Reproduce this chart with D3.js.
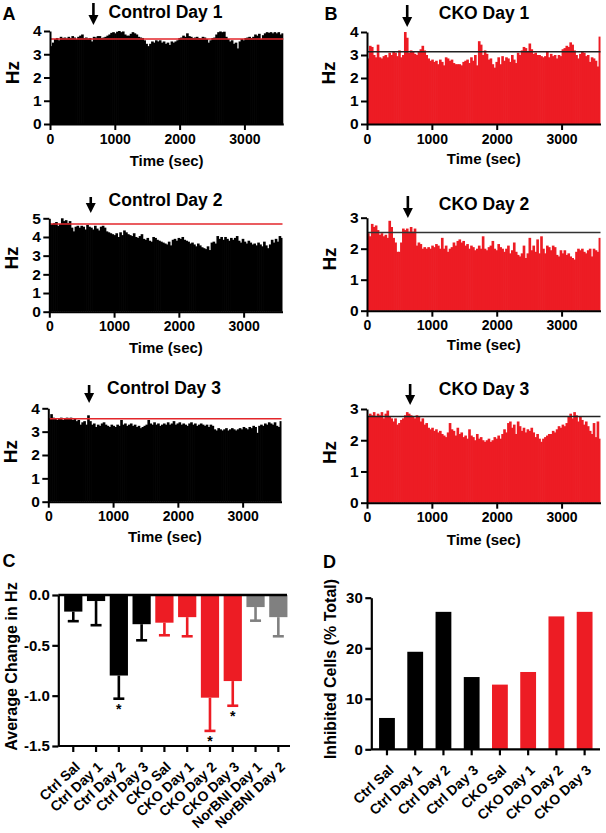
<!DOCTYPE html>
<html><head><meta charset="utf-8">
<script src="https://cdn.jsdelivr.net/npm/d3@7"></script>
<style>
body{margin:0;background:#fff}
svg text{font-family:"Liberation Sans",Arial,Helvetica,sans-serif;font-weight:bold;fill:#000}
</style>
</head><body>
<svg id="fig" width="606" height="833"></svg>
<script>
// ---------------- DATA ----------------
const binSeconds = 30;            // histogram bin width (sec)
const sessionSeconds = 3600;
const timeTicks = [0, 1000, 2000, 3000];

const ctrlDay1 = [
 3.35,3.5,3.65,3.7,3.6,3.75,3.7,3.72,3.68,3.75,
 3.7,3.78,3.72,3.65,3.75,3.8,3.85,3.7,3.72,3.68,
 3.7,3.55,3.75,3.72,3.78,3.78,3.7,3.72,3.75,3.8,
 3.85,3.92,3.95,3.9,3.97,4.0,3.95,3.98,3.85,3.8,
 3.8,3.88,3.95,3.9,3.85,3.75,3.72,3.7,3.6,3.45,
 3.35,3.45,3.55,3.5,3.6,3.55,3.6,3.5,3.55,3.45,
 3.5,3.4,3.55,3.5,3.55,3.6,3.7,3.72,3.8,3.75,
 3.9,3.78,3.75,3.7,3.72,3.75,3.7,3.68,3.75,3.72,
 3.65,3.5,3.6,3.7,3.72,3.85,3.95,3.98,3.95,3.97,
 3.75,3.65,3.55,3.6,3.45,3.5,3.25,3.55,3.65,3.6,
 3.7,3.72,3.75,3.7,3.75,3.85,3.8,3.88,3.65,3.82,
 3.9,3.95,3.92,3.95,3.9,3.95,3.9,3.95,3.85,3.9];
const ctrlDay2 = [
 4.65,4.7,4.75,4.8,4.6,4.7,5.0,4.85,4.9,4.75,
 4.85,4.5,4.3,4.55,4.6,4.5,4.6,4.55,4.4,4.65,
 4.55,4.5,4.4,4.6,4.45,4.35,4.55,4.6,4.5,4.3,
 4.25,4.2,4.15,4.1,4.2,4.0,4.25,4.1,4.35,4.25,
 4.15,4.1,4.05,4.2,4.0,3.95,4.05,4.15,3.9,3.85,
 3.95,3.8,3.75,4.0,3.95,3.85,3.8,3.75,3.7,3.65,
 3.6,3.75,3.55,3.85,3.9,3.8,3.95,3.9,4.0,3.85,
 3.8,3.75,3.65,3.7,3.6,3.5,3.65,3.55,3.45,3.4,
 3.35,3.5,3.3,3.7,3.75,3.65,4.05,3.9,4.0,3.85,
 4.0,3.9,3.8,3.95,3.85,3.95,4.05,3.8,3.7,3.9,
 3.75,3.65,3.8,3.7,3.6,3.65,3.55,3.7,3.6,3.5,
 3.75,3.55,3.4,3.6,3.85,3.7,3.9,3.75,4.05,3.95];
const ctrlDay3 = [
 3.55,3.75,3.6,3.55,3.5,3.55,3.6,3.5,3.55,3.6,
 3.55,3.6,3.5,3.55,3.45,3.5,3.3,3.4,3.45,3.3,
 3.7,3.45,3.3,3.35,3.2,3.3,3.25,3.35,3.4,3.3,
 3.25,3.2,3.3,3.25,3.2,3.3,3.25,3.5,3.3,3.35,
 3.25,3.3,3.35,3.25,3.3,3.2,3.25,3.15,3.2,3.25,
 3.3,3.5,3.35,3.3,3.4,3.3,3.35,3.25,3.3,3.35,
 3.3,3.4,3.3,3.35,3.45,3.3,3.35,3.4,3.3,3.35,
 3.3,3.25,3.35,3.4,3.3,3.35,3.25,3.3,3.35,3.3,
 3.25,3.3,3.2,3.3,3.25,3.1,3.05,3.15,3.1,3.05,
 3.1,3.15,3.05,3.1,3.15,3.1,3.05,3.1,3.15,3.1,
 3.2,3.15,3.1,3.2,3.15,3.25,3.2,2.95,3.25,3.3,
 3.25,3.35,3.3,3.4,3.35,3.3,3.4,3.25,3.2,3.45];
const ckoDay1 = [
 2.85,3.4,3.35,3.0,2.9,3.45,2.9,2.85,2.95,3.0,
 2.9,3.1,3.0,3.15,3.1,2.95,3.2,2.9,3.0,4.0,
 3.75,3.1,3.2,3.15,3.05,3.0,3.15,3.25,3.4,3.2,
 3.0,2.85,2.75,2.8,2.7,2.75,2.6,2.8,2.7,2.55,
 2.9,2.85,2.75,2.8,2.65,2.6,2.6,2.6,2.55,2.7,
 2.75,2.8,2.65,2.9,2.75,3.0,2.55,3.6,3.45,3.0,
 3.2,3.05,2.8,2.85,2.6,2.45,2.7,2.9,2.6,2.95,
 2.75,2.9,2.85,2.7,3.0,2.8,2.65,3.1,3.0,3.2,
 3.35,3.3,3.15,3.5,3.25,3.05,3.1,3.0,3.0,2.95,
 2.9,2.95,3.15,2.9,3.05,2.95,3.0,2.85,3.0,2.95,
 3.25,3.3,3.4,3.35,3.55,3.45,3.2,3.0,2.85,3.05,
 3.15,3.1,2.95,3.0,2.7,2.9,2.85,2.75,2.5,3.8];
const ckoDay2 = [
 2.5,2.4,2.8,2.7,2.75,2.6,2.45,2.5,2.4,2.45,
 2.35,2.9,2.7,2.35,2.2,1.9,1.9,2.2,2.65,2.6,
 2.65,2.55,2.7,2.55,2.65,2.1,2.2,2.15,2.0,2.05,
 2.0,2.05,2.0,2.1,2.05,2.15,2.1,2.0,2.35,2.0,
 2.1,1.9,2.0,2.05,2.2,2.1,2.25,2.3,2.2,2.25,
 2.1,2.15,2.0,2.1,2.05,1.95,2.0,2.1,2.0,2.4,
 2.0,1.95,2.05,2.1,2.25,2.0,1.95,2.15,2.05,2.0,
 1.9,2.0,2.1,1.85,1.95,2.2,1.9,1.8,1.75,1.85,
 2.1,1.7,1.85,2.35,1.95,2.1,1.9,2.3,1.85,2.4,
 2.0,1.85,2.1,2.05,1.95,2.1,2.05,1.8,1.75,1.95,
 1.85,1.95,1.8,1.85,1.75,1.7,1.65,1.9,2.0,1.95,
 2.0,1.9,1.85,1.95,2.0,1.75,2.0,1.95,1.9,2.35];
const ckoDay3 = [
 2.75,2.85,2.8,2.9,2.75,2.85,2.8,2.9,2.7,2.85,
 2.95,2.75,2.7,2.6,2.7,2.5,2.55,2.65,2.7,2.8,
 2.9,2.85,2.8,2.75,2.7,2.8,2.75,2.6,2.7,2.5,
 2.55,2.4,2.35,2.4,2.3,2.35,2.25,2.3,2.2,2.15,
 2.1,2.25,2.55,2.35,2.3,2.15,2.4,2.2,2.25,2.1,
 2.15,2.05,2.35,2.15,2.1,2.0,2.2,2.05,2.1,2.0,
 1.95,2.0,2.05,1.95,2.0,2.1,2.05,2.15,2.05,2.2,
 2.35,2.25,2.55,2.6,2.4,2.5,2.2,2.6,2.45,2.3,
 2.4,2.25,2.35,2.3,2.4,2.25,2.1,2.2,2.05,1.95,
 2.05,2.1,2.15,2.2,2.2,2.3,2.25,2.35,2.45,2.4,
 2.5,2.45,2.55,2.75,2.85,2.7,2.9,2.8,2.6,2.75,
 2.65,2.5,2.6,2.45,2.3,2.2,2.55,2.1,2.6,2.05];

const histTitles = ["Control Day 1","Control Day 2","Control Day 3","CKO Day 1","CKO Day 2","CKO Day 3"];
const histBaselines = [3.66, 4.7, 3.55, 3.14, 2.52, 2.76];   // pre-injection mean (Hz)
const injectionTimes = [670, 640, 630, 620, 630, 665];       // arrow (sec)
const histYMax = [4, 5, 4, 4, 3, 3];

// Panel C
const catsC  = ["Ctrl Sal","Ctrl Day 1","Ctrl Day 2","Ctrl Day 3","CKO Sal","CKO Day 1","CKO Day 2","CKO Day 3","NorBNI Day 1","NorBNI Day 2"];
const meansC = [-0.165,-0.06,-0.80,-0.29,-0.275,-0.22,-1.02,-0.855,-0.12,-0.22];
const semC   = [0.095,0.24,0.23,0.16,0.125,0.19,0.33,0.245,0.135,0.19];
const groupC = ["ctrl","ctrl","ctrl","ctrl","cko","cko","cko","cko","nor","nor"];
const starsC = ["","","*","","","","*","*","",""];
const ticksC = [0,-0.5,-1.0,-1.5];

// Panel D
const catsD   = ["Ctrl Sal","Ctrl Day 1","Ctrl Day 2","Ctrl Day 3","CKO Sal","CKO Day 1","CKO Day 2","CKO Day 3"];
const valuesD = [6.2,19.3,27.2,14.3,12.8,15.3,26.3,27.2];
const groupD  = ["ctrl","ctrl","ctrl","ctrl","cko","cko","cko","cko"];
const ticksD  = [0,10,20,30];

// ---------------- STYLE / LAYOUT ----------------
const RED = "#ed1c24", GRAY = "#808080";
const groupColor = {ctrl:"#000", cko:RED, nor:GRAY};
const datasets = [ctrlDay1, ctrlDay2, ctrlDay3, ckoDay1, ckoDay2, ckoDay3];
const layout = [
 {x0:50,   x1:283.3, yb:124,   yt:31,    fill:"#000", line:"#e3262b", tx:165.5, ty:18.3, ay0:3,  ay1:25,  hzx:19,    hzy:72.7, timeY:166},
 {x0:49.3, x1:282.5, yb:311.7, yt:218.3, fill:"#000", line:"#e3262b", tx:165.5, ty:206,  ay0:197,ay1:213, hzx:18.3,  hzy:258,  timeY:352.5},
 {x0:48.3, x1:281.5, yb:501.7, yt:408.3, fill:"#000", line:"#e3262b", tx:164,   ty:393.5,ay0:385,ay1:403, hzx:17.3,  hzy:451.7,timeY:541.7},
 {x0:367,  x1:600.5, yb:124,   yt:32,    fill:RED,    line:"#222",    tx:484,   ty:19,   ay0:5,  ay1:27,  hzx:334.7, hzy:73,   timeY:164},
 {x0:367,  x1:600.5, yb:310.7, yt:217.7, fill:RED,    line:"#333",    tx:484,   ty:210,  ay0:196,ay1:218, hzx:336.3, hzy:259,  timeY:350},
 {x0:367,  x1:600.5, yb:502.7, yt:409,   fill:RED,    line:"#222",    tx:484,   ty:395,  ay0:384,ay1:405, hzx:336.3, hzy:452.5,timeY:545}
];
const catLabelTransform = "translate(7.5,22) rotate(-43)";

const svg = d3.select("#fig");

function styleAxis(g, fs, sw){
  g.selectAll("path.domain").attr("stroke","#000").attr("stroke-width",sw);
  g.selectAll(".tick line").attr("stroke","#000").attr("stroke-width",sw);
  g.selectAll(".tick text").style("font-size",fs+"px").attr("fill","#000");
}

function drawHist(i){
  const L = layout[i], data = datasets[i];
  const g = svg.append("g");
  const x = d3.scaleLinear().domain([0, sessionSeconds]).range([L.x0, L.x1]);
  const y = d3.scaleLinear().domain([0, histYMax[i]]).range([L.yb, L.yt]);
  const bw = x(binSeconds) - x(0);
  g.append("g").selectAll("rect").data(data).join("rect")
    .attr("x",(d,k)=>x(k*binSeconds))
    .attr("width",(d,k)=> k===data.length-1 ? bw : bw+0.7)
    .attr("y",d=>y(d)).attr("height",d=>L.yb-y(d))
    .attr("fill",L.fill);
  // baseline
  g.append("line").attr("x1",x(0)).attr("x2",x(sessionSeconds))
    .attr("y1",y(histBaselines[i])).attr("y2",y(histBaselines[i]))
    .attr("stroke",L.line).attr("stroke-width",1.5);
  // axes
  const ya = g.append("g").attr("transform",`translate(${L.x0},0)`)
    .call(d3.axisLeft(y).tickValues(d3.range(0,histYMax[i]+1)).tickSize(6).tickSizeOuter(0).tickPadding(2.5).tickFormat(d3.format("d")));
  styleAxis(ya,15.5,2);
  const xa = g.append("g").attr("transform",`translate(0,${L.yb})`)
    .call(d3.axisBottom(x).tickValues(timeTicks).tickSize(6).tickSizeOuter(0).tickPadding(3.5).tickFormat(d3.format("d")));
  styleAxis(xa,14,2);
  xa.selectAll(".tick text").attr("dy","0.72em");
  // labels
  g.append("text").attr("x",L.tx).attr("y",L.ty).attr("text-anchor","middle").style("font-size","17.5px").text(histTitles[i]);
  g.append("text").attr("transform",`translate(${L.hzx},${L.hzy}) rotate(-90)`).attr("text-anchor","middle").style("font-size","19px").text("Hz");
  g.append("text").attr("x",(L.x0+L.x1)/2).attr("y",L.timeY).attr("text-anchor","middle").style("font-size","15px").text("Time (sec)");
  // injection arrow
  const ax = x(injectionTimes[i]), head = 10, hw = 5;
  g.append("line").attr("x1",ax).attr("x2",ax).attr("y1",L.ay0).attr("y2",L.ay1-head+1)
    .attr("stroke","#000").attr("stroke-width",2.6);
  g.append("path").attr("d",`M${ax-hw},${L.ay1-head} L${ax+hw},${L.ay1-head} L${ax},${L.ay1} Z`).attr("fill","#000");
}
for (let i=0;i<6;i++) drawHist(i);

// panel letters
[["A",2.5,20],["B",324.5,19.5],["C",2.5,567],["D",323,568]].forEach(([t,x,y])=>{
  svg.append("text").attr("x",x).attr("y",y).style("font-size","18px").text(t);
});

// ---------------- Panel C ----------------
{
  const g = svg.append("g");
  const x = d3.scaleBand().domain(catsC).range([59.6,292]).paddingInner(0.2).paddingOuter(0.2);
  const y = d3.scaleLinear().domain([-1.5,0]).range([746,595]);
  const rows = catsC.map((c,k)=>({c, m:meansC[k], s:semC[k], col:groupColor[groupC[k]], star:starsC[k]}));
  g.selectAll("rect.bar").data(rows).join("rect").attr("class","bar")
    .attr("x",d=>x(d.c)).attr("width",x.bandwidth())
    .attr("y",y(0)).attr("height",d=>y(d.m)-y(0)).attr("fill",d=>d.col);
  const cx = d=>x(d.c)+x.bandwidth()/2;
  g.selectAll("line.err").data(rows).join("line").attr("class","err")
    .attr("x1",cx).attr("x2",cx).attr("y1",d=>y(d.m)).attr("y2",d=>y(d.m-d.s))
    .attr("stroke",d=>d.col).attr("stroke-width",2.6);
  g.selectAll("line.cap").data(rows).join("line").attr("class","cap")
    .attr("x1",d=>cx(d)-5.5).attr("x2",d=>cx(d)+5.5).attr("y1",d=>y(d.m-d.s)).attr("y2",d=>y(d.m-d.s))
    .attr("stroke",d=>d.col).attr("stroke-width",2.6);
  g.selectAll("text.star").data(rows.filter(d=>d.star)).join("text").attr("class","star")
    .attr("x",cx).attr("y",d=>y(d.m-d.s)+15).attr("text-anchor","middle").style("font-size","14px").text(d=>d.star);
  // zero line
  g.append("line").attr("x1",58.3).attr("x2",287).attr("y1",y(0)).attr("y2",y(0)).attr("stroke","#000").attr("stroke-width",2.6);
  // y axis
  const ya = g.append("g").attr("transform","translate(58.3,0)")
    .call(d3.axisLeft(y).tickValues(ticksC).tickSize(6).tickSizeOuter(0).tickPadding(2.5).tickFormat(d=>d.toFixed(1)));
  styleAxis(ya,15,2.2);
  // x axis (bottom)
  g.append("line").attr("x1",58.3).attr("x2",290).attr("y1",746).attr("y2",746).attr("stroke","#000").attr("stroke-width",2.2);
  const xa = g.append("g").attr("transform","translate(0,746)")
    .call(d3.axisBottom(x).tickSize(6).tickSizeOuter(0));
  xa.select("path.domain").remove();
  styleAxis(xa,14,2.2);
  xa.selectAll(".tick text").attr("text-anchor","end").attr("dy",null).attr("y",null)
    .attr("transform",catLabelTransform);
  g.append("text").attr("transform","translate(16.7,666.5) rotate(-90)").attr("text-anchor","middle").style("font-size","16px").text("Average Change in Hz");
}

// ---------------- Panel D ----------------
{
  const g = svg.append("g");
  const x = d3.scaleBand().domain(catsD).range([370.6,601]).paddingInner(0.44).paddingOuter(0.3);
  const y = d3.scaleLinear().domain([0,30]).range([749.3,597.7]);
  const rows = catsD.map((c,k)=>({c, v:valuesD[k], col:groupColor[groupD[k]]}));
  g.selectAll("rect").data(rows).join("rect")
    .attr("x",d=>x(d.c)).attr("width",x.bandwidth())
    .attr("y",d=>y(d.v)).attr("height",d=>y(0)-y(d.v)).attr("fill",d=>d.col);
  const ya = g.append("g").attr("transform","translate(371.3,0)")
    .call(d3.axisLeft(y).tickValues(ticksD).tickSize(6).tickSizeOuter(0).tickPadding(2.5));
  styleAxis(ya,15,2.2);
  g.append("line").attr("x1",371.3).attr("x2",600).attr("y1",749.3).attr("y2",749.3).attr("stroke","#000").attr("stroke-width",2.2);
  const xa = g.append("g").attr("transform","translate(0,749.3)")
    .call(d3.axisBottom(x).tickSize(6).tickSizeOuter(0));
  xa.select("path.domain").remove();
  styleAxis(xa,14,2.2);
  xa.selectAll(".tick text").attr("text-anchor","end").attr("dy",null).attr("y",null)
    .attr("transform",catLabelTransform);
  g.append("text").attr("transform","translate(335.5,669) rotate(-90)").attr("text-anchor","middle").style("font-size","16px").text("Inhibited Cells (% Total)");
}
</script>
</body></html>
